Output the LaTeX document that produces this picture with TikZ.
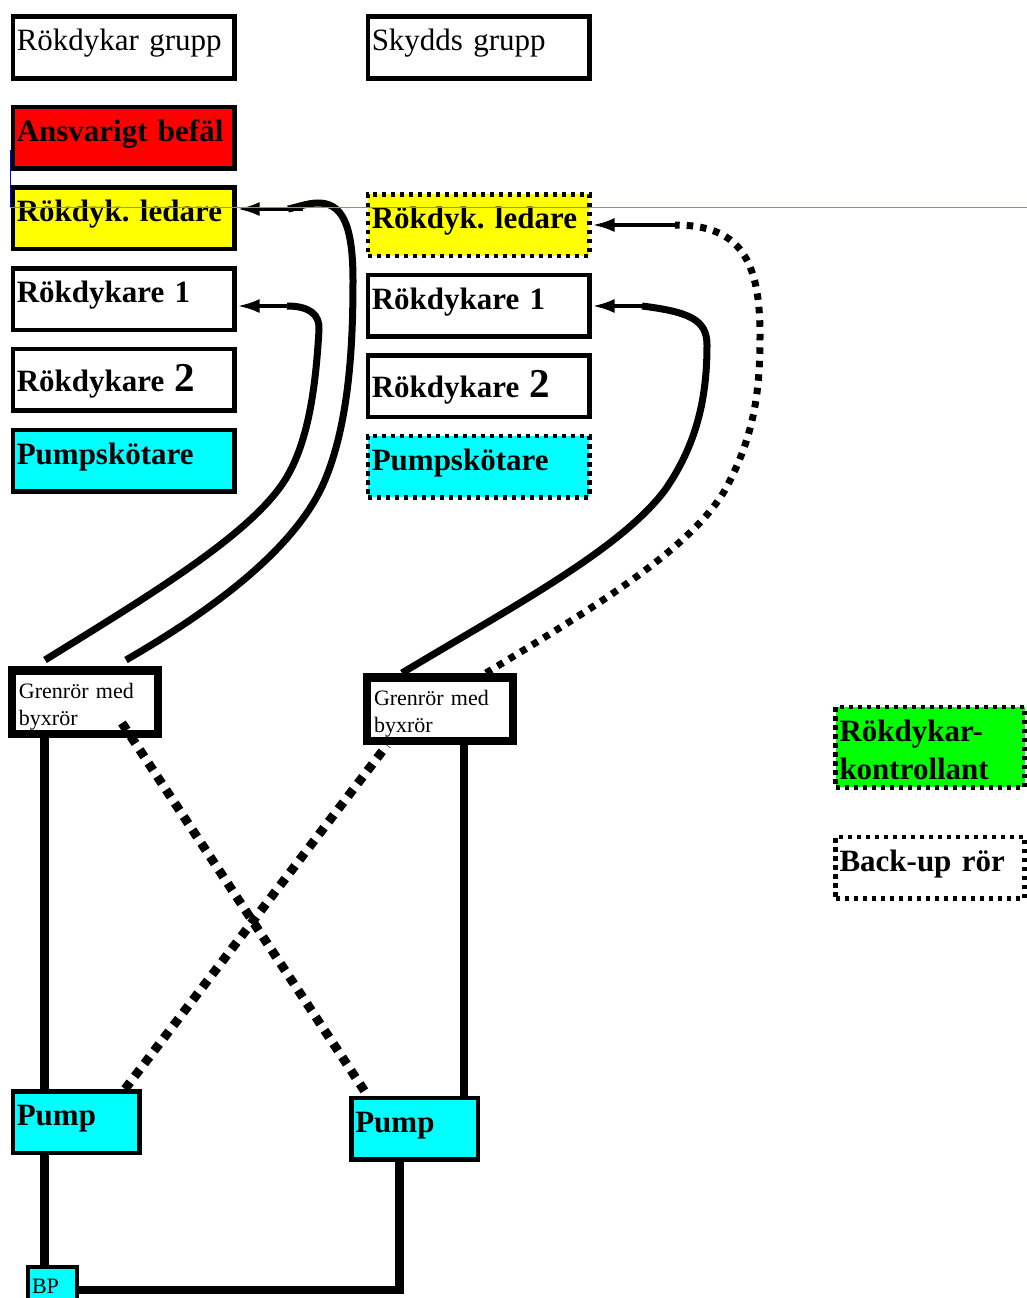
\documentclass[tikz,border=0pt]{standalone}
\usepackage{fontspec}
\setmainfont[WordSpace=0.7]{Liberation Serif}
\usetikzlibrary{arrows.meta}

\definecolor{rod}{RGB}{255,0,0}
\definecolor{gul}{RGB}{255,255,0}
\definecolor{turkos}{RGB}{0,255,255}
\definecolor{gron}{RGB}{0,255,0}
\definecolor{bla}{RGB}{0,0,255}
\definecolor{ljusbla}{RGB}{130,130,255}

\tikzset{
	ruta/.style={shape=rectangle,draw=black,line width=4.5pt,inner xsep=4pt,inner ysep=0pt,align=left,text width=213.5pt,minimum height=61.5pt,text height=25pt,text depth=18pt,font=\fontsize{31}{38}\selectfont\bfseries\frenchspacing},
	vanlig/.style={font=\fontsize{31}{38}\selectfont},
	prickad/.style={dash pattern=on 4.5pt off 4.5pt},
	gren/.style={ruta,line width=8.5pt,inner xsep=7pt,text width=132pt,minimum height=63.5pt,text height=18pt,text depth=26pt,font=\fontsize{22}{27}\selectfont},
	pump/.style={ruta,fill=turkos,inner xsep=4pt,text width=118.5pt},
	ror/.style={line width=8.5pt},
	slang/.style={line width=7pt},
	korsror/.style={line width=9pt,dash pattern=on 8.5pt off 7.5pt},
	pil/.style={line width=3.5pt,shorten >=1pt,-{Latex[length=22pt,width=14pt]}}
}
\newcommand{\stortal}{\fontsize{41}{41}\selectfont 2}

\begin{document}
\begin{tikzpicture}[x=1pt,y=-1pt]
	\useasboundingbox (0,0) rectangle (1027,1298);

	\node[ruta,vanlig] (rubrikV) at (123.5,47.5) {Rökdykar grupp};
	\node[ruta,vanlig] (rubrikH) at (478.5,47.5) {Skydds grupp};

	\node[ruta,fill=rod] (befal) at (123.5,137.5) {Ansvarigt befäl};
	\node[ruta,fill=gul] (ledareV) at (123.5,218) {Rökdyk. ledare};
	\node[ruta] (ettV) at (123.5,299) {Rökdykare 1};
	\node[ruta,text height=30pt,text depth=7pt] (tvaV) at (123.5,379.5) {Rökdykare {\stortal}};
	\node[ruta,fill=turkos] (skotareV) at (123.5,460.5) {Pumpskötare};

	\node[ruta,prickad,fill=gul] (ledareH) at (478.5,225) {Rökdyk. ledare};
	\node[ruta] (ettH) at (478.5,305.5) {Rökdykare 1};
	\node[ruta,text height=30pt,text depth=7pt] (tvaH) at (478.5,386) {Rökdykare {\stortal}};
	\node[ruta,prickad,fill=turkos] (skotareH) at (478.5,466.5) {Pumpskötare};

	\node[ruta,prickad,fill=gron,inner xsep=4pt,text width=181pt,minimum height=80.5pt,text height=24pt,text depth=36pt] (kontroll) at (930,747) {Rökdykar-\\kontrollant};
	\node[ruta,prickad,inner xsep=4pt,text width=181pt] (backup) at (930,867.5) {Back-up rör};

	\node[gren] (grenV) at (85,702) {Grenrör med\\byxrör};
	\node[gren] (grenH) at (440,709) {Grenrör med\\byxrör};

	\node[pump] (pumpV) at (76,1122) {Pump};
	\node[pump] (pumpH) at (414.5,1128.5) {Pump};
	\node[ruta,fill=turkos,inner xsep=4pt,text width=41pt,minimum height=46pt,text height=21pt,text depth=15pt,font=\fontsize{22}{27}\selectfont] (bp) at (52.5,1290) {BP};

	% ror mellan grenror och pumpar
	\path [-, ror] ([xshift=-40.5pt]grenV.south) edge ([xshift=-31.5pt]pumpV.north);
	\path [-, ror] ([xshift=24pt]grenH.south) edge ([xshift=49.5pt]pumpH.north);
	\path [-, ror] ([xshift=-31.5pt]pumpV.south) edge ([xshift=-8pt]bp.north);
	\draw [ror] ([xshift=-15pt]pumpH.south) |- (bp.east);

	% reservror i kors
	\draw [korsror] ([xshift=37pt,yshift=-21pt]grenV.center) -- ([xshift=-47pt]pumpH.north);
	\draw [korsror] ([xshift=49pt]pumpV.north) -- ([xshift=-53pt]grenH.south);

	% slangar upp till rutorna
	\coordinate (pilA) at (303,209);
	\coordinate (pilB) at (287,306);
	\coordinate (pilC) at (642,306);
	\coordinate (pilD) at (675,225);

	\draw [slang] ([xshift=41pt,yshift=6pt]grenV.north) .. controls (230,600) and (300,540) .. (325,480) .. controls (350,420) and (353,340) .. (353,280) .. controls (353,220) and (340,203) .. (318,203) .. controls (308,203) and (298,207) .. (288,209);
	\draw [slang] ([xshift=-40pt,yshift=6pt]grenV.north) .. controls (150,595) and (250,535) .. (285,480) .. controls (310,440) and (316,380) .. (319,330) .. controls (320,315) and (310,306) .. (pilB);
	\draw [slang] ([xshift=-38pt]grenH.north) .. controls (510,608) and (620,550) .. (665,490) .. controls (700,440) and (707,390) .. (707,345) .. controls (707,320) and (690,312) .. (pilC);
	\draw [slang,dash pattern=on 6.5pt off 7pt] ([xshift=46pt]grenH.north) .. controls (590,610) and (690,550) .. (725,490) .. controls (755,435) and (760,390) .. (760,335) .. controls (760,260) and (740,225) .. (pilD);

	\draw [pil] (pilA) -- (pilA -| ledareV.east);
	\draw [pil] (pilB) -- (pilB -| ettV.east);
	\draw [pil] (pilC) -- (pilC -| ettH.east);
	\draw [pil] (pilD) -- (pilD -| ledareH.east);

	% bla hjalplinjer
	\draw [bla, line width=1pt] (10,150) -- (10,207);
	\draw [ljusbla, line width=.6pt] (10,207) -- (1027,207);
\end{tikzpicture}
\end{document}
